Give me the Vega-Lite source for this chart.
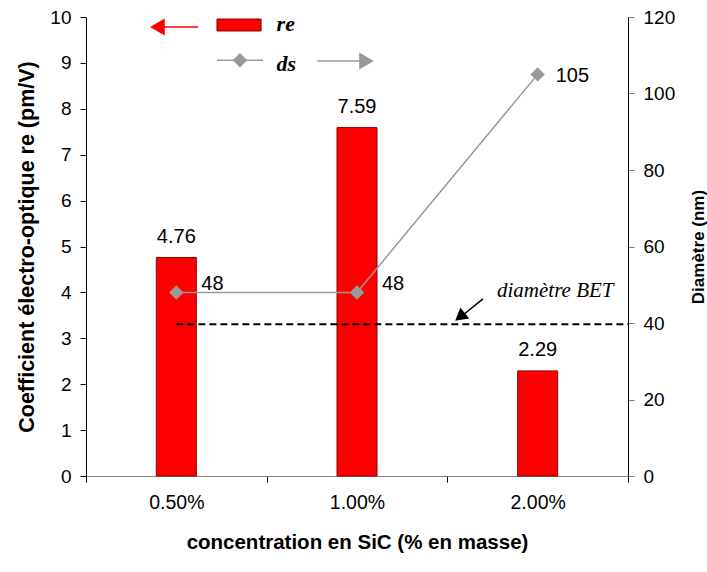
{
  "$schema": "https://vega.github.io/schema/vega-lite/v6.json",
  "width": 542,
  "height": 459,
  "autosize": {"type": "none"},
  "padding": {"left": 86, "top": 17, "right": 79, "bottom": 96},
  "background": "white",
  "config": {
    "view": {"stroke": null},
    "font": "Liberation Sans",
    "axis": {
      "labelFont": "Liberation Sans",
      "titleFont": "Liberation Sans",
      "labelFontSize": 19,
      "titleFontSize": 16,
      "titleFontWeight": "bold",
      "labelColor": "black",
      "titleColor": "black",
      "domainColor": "black",
      "tickColor": "black",
      "grid": false,
      "tickSize": 6,
      "labelPadding": 9
    }
  },
  "datasets": {
    "main": [
      {"conc": "0.50%", "re": 4.76, "ds": 48},
      {"conc": "1.00%", "re": 7.59, "ds": 48},
      {"conc": "2.00%", "re": 2.29, "ds": 105}
    ],
    "one": [{}]
  },
  "layer": [
    {
      "data": {"name": "main"},
      "mark": {"type": "bar", "color": "#ff0000", "stroke": "#8b0000", "strokeWidth": 1, "width": 40},
      "encoding": {
        "x": {
          "field": "conc", "type": "nominal",
          "scale": {"domain": ["0.50%", "1.00%", "2.00%"], "paddingInner": 0, "paddingOuter": 0},
          "axis": {"orient": "bottom", "title": "concentration en SiC (% en masse)", "tickBand": "extent", "labelAngle": 0, "labelFontSize": 19.5, "labelPadding": 11, "titleFontSize": 20.5, "titlePadding": 21, "domainColor": "#808080"}
        },
        "y": {
          "field": "re", "type": "quantitative",
          "scale": {"domain": [0, 10], "nice": false},
          "axis": {"orient": "left", "title": "Coefficient électro-optique re (pm/V)", "values": [0, 1, 2, 3, 4, 5, 6, 7, 8, 9, 10], "titleFontSize": 21.5, "titlePadding": 11}
        }
      }
    },
    {
      "data": {"name": "main"},
      "mark": {"type": "line", "color": "#999999", "strokeWidth": 1.5, "point": {"shape": "diamond", "filled": true, "size": 210, "color": "#999999", "opacity": 1}},
      "encoding": {
        "x": {"field": "conc", "type": "nominal", "axis": null},
        "y": {
          "field": "ds", "type": "quantitative",
          "scale": {"domain": [0, 120], "nice": false},
          "axis": {"orient": "right", "title": "Diamètre (nm)", "values": [0, 20, 40, 60, 80, 100, 120], "tickColor": "#808080", "titleFontSize": 17, "titleAngle": 270, "titleBaseline": "top", "titlePadding": 16}
        }
      }
    },
    {
      "data": {"name": "main"},
      "mark": {"type": "text", "fontSize": 20, "baseline": "alphabetic", "align": "center", "dy": -15},
      "encoding": {
        "x": {"field": "conc", "type": "nominal", "axis": null},
        "y": {"field": "re", "type": "quantitative", "scale": {"domain": [0, 10], "nice": false}, "axis": null},
        "text": {"field": "re", "type": "quantitative", "format": ".2f"}
      }
    },
    {
      "data": {"name": "main"},
      "transform": [{"filter": "datum.ds < 100"}],
      "mark": {"type": "text", "fontSize": 20, "align": "left", "baseline": "alphabetic", "dx": 25, "dy": -2},
      "encoding": {
        "x": {"field": "conc", "type": "nominal", "axis": null},
        "y": {"field": "ds", "type": "quantitative", "scale": {"domain": [0, 120], "nice": false}, "axis": null},
        "text": {"field": "ds", "type": "quantitative"}
      }
    },
    {
      "data": {"name": "main"},
      "transform": [{"filter": "datum.ds >= 100"}],
      "mark": {"type": "text", "fontSize": 20, "align": "left", "baseline": "alphabetic", "dx": 18, "dy": 8},
      "encoding": {
        "x": {"field": "conc", "type": "nominal", "axis": null},
        "y": {"field": "ds", "type": "quantitative", "scale": {"domain": [0, 120], "nice": false}, "axis": null},
        "text": {"field": "ds", "type": "quantitative"}
      }
    },
    {
      "data": {"name": "one"},
      "mark": {"type": "rule", "color": "black", "strokeWidth": 2, "strokeDash": [7, 4]},
      "encoding": {
        "x": {"datum": "0.50%", "type": "nominal", "bandPosition": 0.5, "axis": null},
        "x2": {"datum": "2.00%", "bandPosition": 1},
        "y": {"datum": 39.7, "type": "quantitative", "scale": {"domain": [0, 120], "nice": false}, "axis": null}
      }
    },
    {
      "data": {"name": "one"},
      "mark": {"type": "text", "font": "Liberation Serif", "fontStyle": "italic", "fontSize": 21, "align": "left", "baseline": "alphabetic"},
      "encoding": {
        "x": {"datum": "2.00%", "type": "nominal", "bandPosition": 0.275, "axis": null},
        "y": {"datum": 46.8, "type": "quantitative", "scale": {"domain": [0, 120], "nice": false}, "axis": null},
        "text": {"value": "diamètre BET"}
      }
    },
    {
      "data": {"name": "one"},
      "mark": {"type": "rule", "color": "black", "strokeWidth": 1.5},
      "encoding": {
        "x": {"datum": "2.00%", "type": "nominal", "bandPosition": 0.197, "axis": null},
        "x2": {"datum": "2.00%", "bandPosition": 0.087},
        "y": {"datum": 46.3, "type": "quantitative", "scale": {"domain": [0, 120], "nice": false}, "axis": null},
        "y2": {"datum": 42.1}
      }
    },
    {
      "data": {"name": "one"},
      "mark": {"type": "point", "shape": "triangle-up", "filled": true, "color": "black", "size": 200, "angle": 231.5, "opacity": 1},
      "encoding": {
        "x": {"datum": "2.00%", "type": "nominal", "bandPosition": 0.07, "axis": null},
        "y": {"datum": 41.6, "type": "quantitative", "scale": {"domain": [0, 120], "nice": false}, "axis": null}
      }
    },
    {
      "data": {"name": "one"},
      "mark": {"type": "rule", "color": "#ff0000", "strokeWidth": 1.5},
      "encoding": {
        "x": {"datum": "0.50%", "type": "nominal", "bandPosition": 0.42, "axis": null},
        "x2": {"datum": "0.50%", "bandPosition": 0.62},
        "y": {"datum": 9.78, "type": "quantitative", "scale": {"domain": [0, 10], "nice": false}, "axis": null}
      }
    },
    {
      "data": {"name": "one"},
      "mark": {"type": "point", "shape": "triangle-left", "filled": true, "color": "#ff0000", "size": 290, "opacity": 1},
      "encoding": {
        "x": {"datum": "0.50%", "type": "nominal", "bandPosition": 0.395, "axis": null},
        "y": {"datum": 9.78, "type": "quantitative", "scale": {"domain": [0, 10], "nice": false}, "axis": null}
      }
    },
    {
      "data": {"name": "one"},
      "mark": {"type": "rect", "color": "#ff0000", "stroke": "#8b0000", "strokeWidth": 1},
      "encoding": {
        "x": {"datum": "0.50%", "type": "nominal", "bandPosition": 0.725, "axis": null},
        "x2": {"datum": "0.50%", "bandPosition": 0.969},
        "y": {"datum": 9.956, "type": "quantitative", "scale": {"domain": [0, 10], "nice": false}, "axis": null},
        "y2": {"datum": 9.695}
      }
    },
    {
      "data": {"name": "one"},
      "mark": {"type": "text", "font": "Liberation Serif", "fontStyle": "italic", "fontWeight": "bold", "fontSize": 22, "align": "left", "baseline": "alphabetic"},
      "encoding": {
        "x": {"datum": "1.00%", "type": "nominal", "bandPosition": 0.055, "axis": null},
        "y": {"datum": 9.695, "type": "quantitative", "scale": {"domain": [0, 10], "nice": false}, "axis": null},
        "text": {"value": "re"}
      }
    },
    {
      "data": {"name": "one"},
      "mark": {"type": "rule", "color": "#999999", "strokeWidth": 1.5},
      "encoding": {
        "x": {"datum": "0.50%", "type": "nominal", "bandPosition": 0.725, "axis": null},
        "x2": {"datum": "0.50%", "bandPosition": 0.98},
        "y": {"datum": 9.06, "type": "quantitative", "scale": {"domain": [0, 10], "nice": false}, "axis": null}
      }
    },
    {
      "data": {"name": "one"},
      "mark": {"type": "point", "shape": "diamond", "filled": true, "color": "#999999", "size": 210, "opacity": 1},
      "encoding": {
        "x": {"datum": "0.50%", "type": "nominal", "bandPosition": 0.852, "axis": null},
        "y": {"datum": 9.06, "type": "quantitative", "scale": {"domain": [0, 10], "nice": false}, "axis": null}
      }
    },
    {
      "data": {"name": "one"},
      "mark": {"type": "text", "font": "Liberation Serif", "fontStyle": "italic", "fontWeight": "bold", "fontSize": 22, "align": "left", "baseline": "alphabetic"},
      "encoding": {
        "x": {"datum": "1.00%", "type": "nominal", "bandPosition": 0.055, "axis": null},
        "y": {"datum": 8.82, "type": "quantitative", "scale": {"domain": [0, 10], "nice": false}, "axis": null},
        "text": {"value": "ds"}
      }
    },
    {
      "data": {"name": "one"},
      "mark": {"type": "rule", "color": "#999999", "strokeWidth": 1.5},
      "encoding": {
        "x": {"datum": "1.00%", "type": "nominal", "bandPosition": 0.279, "axis": null},
        "x2": {"datum": "1.00%", "bandPosition": 0.528},
        "y": {"datum": 9.04, "type": "quantitative", "scale": {"domain": [0, 10], "nice": false}, "axis": null}
      }
    },
    {
      "data": {"name": "one"},
      "mark": {"type": "point", "shape": "triangle-right", "filled": true, "color": "#999999", "size": 290, "opacity": 1},
      "encoding": {
        "x": {"datum": "1.00%", "type": "nominal", "bandPosition": 0.553, "axis": null},
        "y": {"datum": 9.04, "type": "quantitative", "scale": {"domain": [0, 10], "nice": false}, "axis": null}
      }
    }
  ],
  "resolve": {"scale": {"y": "independent"}, "axis": {"x": "independent"}}
}
